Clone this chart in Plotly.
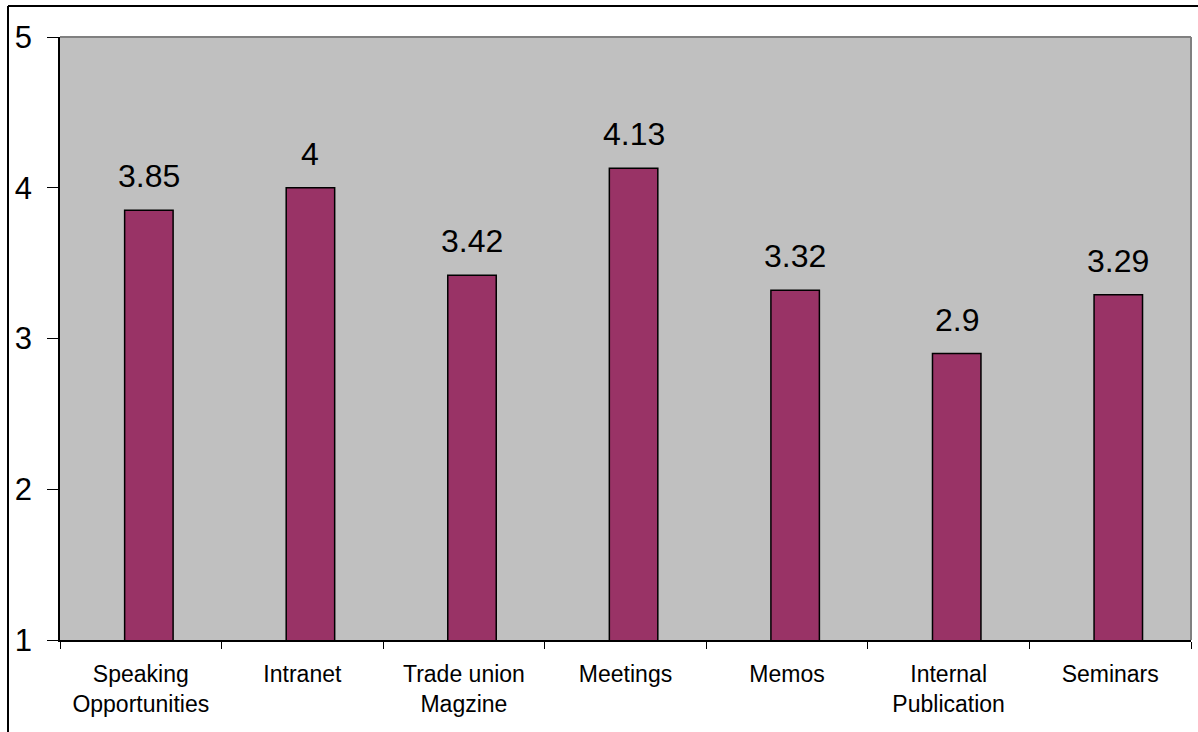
import plotly.graph_objects as go

# Survey results: mean rating per communication channel
categories = [
    "Speaking<br>Opportunities",
    "Intranet",
    "Trade union<br>Magzine",
    "Meetings",
    "Memos",
    "Internal<br>Publication",
    "Seminars",
]
values = [3.85, 4, 3.42, 4.13, 3.32, 2.9, 3.29]
value_labels = ["3.85", "4", "3.42", "4.13", "3.32", "2.9", "3.29"]
y_ticks = [1, 2, 3, 4, 5]

W, H = 1198, 732
L, R, T, B = 60, 7, 37, 92

fig = go.Figure()
fig.add_trace(go.Bar(
    x=categories,
    y=values,
    width=0.3,
    offset=-0.1,
    marker=dict(color="#993366", line=dict(color="black", width=1.5)),
    hoverinfo="x+y",
))

for cat, v, lab in zip(categories, values, value_labels):
    fig.add_annotation(
        x=cat, y=v, text=lab, showarrow=False,
        xshift=8, yanchor="bottom", yshift=14,
        font=dict(family="Liberation Sans, Arial, sans-serif", size=32, color="black"),
    )

pw = W - L - R
ph = H - T - B

def px_x(p):
    return (p - L) / pw

def px_y(p):
    return (H - B - p) / ph

# outer frame (extends past right/bottom edges)
fig.add_shape(type="line", xref="paper", yref="paper",
              x0=px_x(8), x1=px_x(W + 10), y0=px_y(6), y1=px_y(6),
              line=dict(color="black", width=2))
fig.add_shape(type="line", xref="paper", yref="paper",
              x0=px_x(8), x1=px_x(8), y0=px_y(6), y1=px_y(H + 10),
              line=dict(color="black", width=2))
# grey plot-area border on top and right
fig.add_shape(type="line", xref="paper", yref="paper",
              x0=0, x1=1, y0=1, y1=1, line=dict(color="#808080", width=2))
fig.add_shape(type="line", xref="paper", yref="paper",
              x0=1, x1=1, y0=0, y1=1, line=dict(color="#808080", width=2))

fig.update_layout(
    width=W, height=H,
    margin=dict(l=L, r=R, t=T, b=B),
    paper_bgcolor="white",
    plot_bgcolor="#C0C0C0",
    showlegend=False,
    xaxis=dict(
        type="category",
        automargin=False,
        tickangle=0,
        tickson="boundaries",
        ticks="outside", ticklen=7, tickcolor="black", tickwidth=1,
        ticklabelstandoff=13,
        showline=True, linecolor="black", linewidth=1.5,
        showgrid=False, zeroline=False,
        tickfont=dict(family="Liberation Sans, Arial, sans-serif",
                      size=23, color="black"),
        range=[-0.5, len(categories) - 0.5],
    ),
    yaxis=dict(
        range=[1, 5],
        automargin=False,
        tickvals=y_ticks,
        ticktext=[str(t) for t in y_ticks],
        ticks="outside", ticklen=11, tickcolor="black", tickwidth=1,
        ticklabelstandoff=9,
        showline=True, linecolor="black", linewidth=1.5,
        showgrid=False, zeroline=False,
        tickfont=dict(family="Liberation Sans, Arial, sans-serif", size=31, color="black"),
    ),
)

fig.write_html("out.html")
